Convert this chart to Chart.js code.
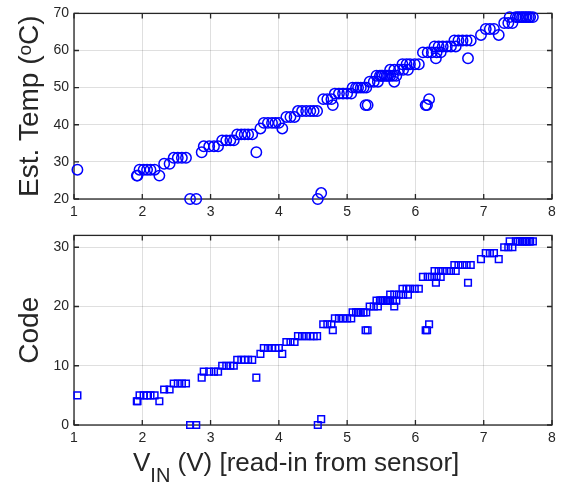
<!DOCTYPE html>
<html>
<head>
<meta charset="utf-8">
<script src="https://cdn.jsdelivr.net/npm/chart.js@4"></script>
<style>
  body { margin: 0; background: #fff; }
  #wrap { position: relative; width: 566px; height: 498px; overflow: hidden; }
  canvas { position: absolute; left: 0; }
  #topChart { top: 0; }
  #codeChart { top: 222px; }
  #xTitle {
    position: absolute; left: 133px; top: 447px;
    font-family: 'Liberation Sans', Arial, sans-serif; font-size: 26px; color: #262626;
    white-space: nowrap;
  }
  #xTitle sub { font-size: 20px; vertical-align: -11px; }
</style>
</head>
<body>
<div id="wrap">
  <canvas id="topChart" width="566" height="222"></canvas>
  <canvas id="codeChart" width="566" height="233"></canvas>
  <div id="xTitle">V<sub>IN</sub> (V) [read-in from sensor]</div>
</div>
<script>
// input voltage read from sensor (V)
const vin = [1.05, 1.92, 1.93, 1.96, 2.02, 2.07, 2.12, 2.18, 2.25, 2.32, 2.40, 2.46, 2.52, 2.58, 2.64, 2.70, 2.79,
  2.87, 2.90, 2.98, 3.05, 3.11, 3.17, 3.23, 3.29, 3.34, 3.39, 3.45, 3.50, 3.55, 3.61, 3.67, 3.73, 3.78, 3.84,
  3.90, 3.95, 4.00, 4.05, 4.11, 4.17, 4.23, 4.28, 4.34, 4.40, 4.46, 4.51, 4.56, 4.57, 4.62, 4.65, 4.71, 4.77,
  4.79, 4.82, 4.88, 4.94, 5.00, 5.06, 5.08, 5.13, 5.16, 5.20, 5.24, 5.28, 5.27, 5.30, 5.33, 5.39, 5.45, 5.43,
  5.48, 5.50, 5.52, 5.55, 5.58, 5.60, 5.63, 5.67, 5.72, 5.69, 5.63, 5.69, 5.76, 5.82, 5.89, 5.81, 5.87, 5.92,
  5.99, 6.05, 6.15, 6.17, 6.20, 6.11, 6.18, 6.24, 6.31, 6.37, 6.30, 6.28, 6.34, 6.40, 6.46, 6.52, 6.59, 6.57,
  6.63, 6.69, 6.75, 6.81, 6.77, 6.96, 7.03, 7.09, 7.15, 7.22, 7.30, 7.36, 7.42, 7.38, 7.47, 7.50, 7.53, 7.56,
  7.58, 7.61, 7.63, 7.66, 7.68, 7.72];

// ADC code for each reading
const code = [5, 4, 4, 5, 5, 5, 5, 5, 4, 6, 6, 7, 7, 7, 7, 0, 0,
  8, 9, 9, 9, 9, 10, 10, 10, 10, 11, 11, 11, 11, 11, 8, 12, 13, 13,
  13, 13, 13, 12, 14, 14, 14, 15, 15, 15, 15, 15, 15, 0, 1, 17, 17, 17,
  16, 18, 18, 18, 18, 18, 19, 19, 19, 19, 19, 19, 16, 16, 20, 20, 20, 21,
  21, 21, 21, 21, 21, 21, 21, 21, 21, 20, 22, 22, 22, 22, 22, 23, 23, 23,
  23, 23, 16, 16, 17, 25, 25, 25, 25, 25, 24, 26, 26, 26, 26, 26, 26, 27,
  27, 27, 27, 27, 24, 28, 29, 29, 29, 28, 30, 30, 30, 31, 31, 31, 31, 31,
  31, 31, 31, 31, 31, 31];

// estimated temperature (deg C)
const temp = [27.9, 26.3, 26.3, 27.9, 27.9, 27.9, 27.9, 27.9, 26.3, 29.5, 29.5, 31.1, 31.1, 31.1, 31.1, 20.0, 20.0,
  32.6, 34.2, 34.2, 34.2, 34.2, 35.8, 35.8, 35.8, 35.8, 37.4, 37.4, 37.4, 37.4, 37.4, 32.6, 39.0, 40.5, 40.5,
  40.5, 40.5, 40.5, 39.0, 42.1, 42.1, 42.1, 43.7, 43.7, 43.7, 43.7, 43.7, 43.7, 20.0, 21.6, 46.9, 46.9, 46.9,
  45.3, 48.4, 48.4, 48.4, 48.4, 48.4, 50.0, 50.0, 50.0, 50.0, 50.0, 50.0, 45.3, 45.3, 51.6, 51.6, 51.6, 53.2,
  53.2, 53.2, 53.2, 53.2, 53.2, 53.2, 53.2, 53.2, 53.2, 51.6, 54.8, 54.8, 54.8, 54.8, 54.8, 56.3, 56.3, 56.3,
  56.3, 56.3, 45.3, 45.3, 46.9, 59.5, 59.5, 59.5, 59.5, 59.5, 57.9, 61.1, 61.1, 61.1, 61.1, 61.1, 61.1, 62.7,
  62.7, 62.7, 62.7, 62.7, 57.9, 64.2, 65.8, 65.8, 65.8, 64.2, 67.4, 67.4, 67.4, 69.0, 69.0, 69.0, 69.0, 69.0,
  69.0, 69.0, 69.0, 69.0, 69.0, 69.0];

const axisColor = '#262626';
const gridColor = 'rgba(38,38,38,0.15)';
const font = "'Liberation Sans', Arial, sans-serif";

// MATLAB style: full box with inward ticks
const boxPlugin = {
    id: 'boxPlugin',
    beforeDatasetsDraw(chart) {
        const { ctx, chartArea: a, scales } = chart;
        ctx.save();
        ctx.strokeStyle = axisColor;
        ctx.lineWidth = 1.3;
        ctx.beginPath();
        scales.x.ticks.forEach(t => {
            const px = scales.x.getPixelForValue(t.value);
            ctx.moveTo(px, a.bottom); ctx.lineTo(px, a.bottom - 5);
            ctx.moveTo(px, a.top); ctx.lineTo(px, a.top + 5);
        });
        scales.y.ticks.forEach(t => {
            const py = scales.y.getPixelForValue(t.value);
            ctx.moveTo(a.left, py); ctx.lineTo(a.left + 5, py);
            ctx.moveTo(a.right, py); ctx.lineTo(a.right - 5, py);
        });
        ctx.stroke();
        ctx.strokeRect(a.left, a.top, a.right - a.left, a.bottom - a.top);
        ctx.restore();
    }
};

function makeChart(id, ys, pointStyle, radius, yOpts, pad, xHeight) {
    const pts = vin.map((v, i) => ({ x: v, y: ys[i] }));
    return new Chart(document.getElementById(id), {
        type: 'scatter',
        data: {
            datasets: [{
                data: pts,
                pointStyle: pointStyle,
                pointRadius: radius,
                borderColor: '#0000ff',
                backgroundColor: 'rgba(0,0,0,0)',
                borderWidth: 1.5,
                clip: false
            }]
        },
        options: {
            responsive: false,
            animation: false,
            events: [],
            layout: { padding: pad },
            plugins: { legend: { display: false }, tooltip: { enabled: false } },
            scales: {
                x: {
                    type: 'linear', min: 1, max: 8, bounds: 'data',
                    ticks: { stepSize: 1, color: axisColor, font: { family: font, size: 14 }, padding: 5, maxRotation: 0 },
                    grid: { color: gridColor, drawTicks: false },
                    border: { display: false },
                    afterFit(s) { s.height = xHeight; }
                },
                y: {
                    type: 'linear', min: yOpts.min, max: yOpts.max, bounds: 'data',
                    ticks: { stepSize: 10, color: axisColor, font: { family: font, size: 14 }, padding: 5 },
                    grid: { color: gridColor, drawTicks: false },
                    border: { display: false },
                    title: { display: true, text: yOpts.title, color: axisColor, font: { family: font, size: 28 }, padding: { top: 13, bottom: 0 } },
                    // keep only the round ticks (drop the 32 bound)
                    afterBuildTicks(s) { s.ticks = s.ticks.filter(t => t.value % 10 === 0); },
                    afterFit(s) { s.width = 74; }
                }
            }
        },
        plugins: [boxPlugin]
    });
}

makeChart('topChart', temp, 'circle', 5.2, { min: 20, max: 70, title: 'Est. Temp (ᵒC)' },
    { top: 13, right: 14, left: 0, bottom: 0 }, 23);
makeChart('codeChart', code, 'rect', 4.7, { min: 0, max: 32, title: 'Code' },
    { top: 9, right: 14, left: 0, bottom: 0 }, 30);
</script>
</body>
</html>
